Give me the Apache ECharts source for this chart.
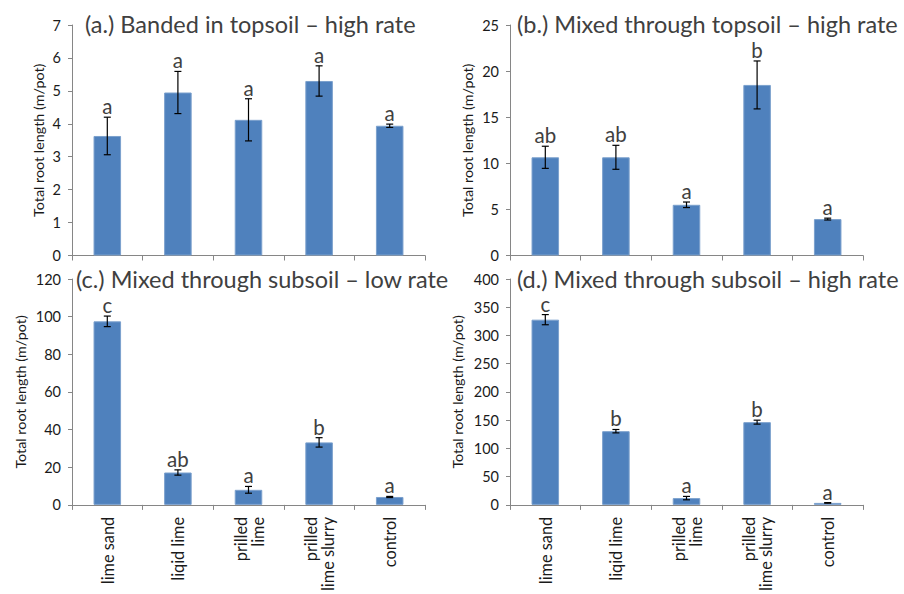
<!DOCTYPE html>
<html>
<head>
<meta charset="utf-8">
<script src="https://cdn.jsdelivr.net/npm/echarts@6/dist/echarts.min.js"></script>
<style>
html,body{margin:0;padding:0;background:#fff;}
#chart{width:904px;height:594px;}
</style>
</head>
<body>
<div id="chart"></div>
<script>
// ---- Data ----
var categories = ['lime sand', 'liqid lime', 'prilled\nlime', 'prilled\nlime slurry', 'control'];

var titleA = '(a.) Banded in topsoil \u2013 high rate';
var valuesA = [3.63, 4.95, 4.12, 5.30, 3.94];
var errorsA = [0.57, 0.64, 0.64, 0.46, 0.05];
var lettersA = ['a', 'a', 'a', 'a', 'a'];

var titleB = '(b.) Mixed through topsoil \u2013 high rate';
var valuesB = [10.65, 10.65, 5.5, 18.5, 3.95];
var errorsB = [1.2, 1.3, 0.3, 2.6, 0.1];
var lettersB = ['ab', 'ab', 'a', 'b', 'a'];

var titleC = '(c.) Mixed through subsoil \u2013 low rate';
var valuesC = [97.5, 17.2, 8.0, 33.2, 4.2];
var errorsC = [2.8, 1.4, 1.8, 2.5, 0.3];
var lettersC = ['c', 'ab', 'a', 'b', 'a'];

var titleD = '(d.) Mixed through subsoil \u2013 high rate';
var valuesD = [328, 130.5, 12, 146.5, 3.5];
var errorsD = [9, 3, 3, 3.5, 0.5];
var lettersD = ['c', 'b', 'a', 'b', 'a'];

var yMaxes = [7, 25, 120, 400];
var yIntervals = [1, 5, 20, 50];
var yName = 'Total root length (m/pot)';

// ---- Layout / style ----
var FONT = 'Lato';
var axisColor = '#868686';
var textColor = '#1a1a1a';
var barColor = '#4F81BD';

var panels = [
  {title: titleA, vals: valuesA, errs: errorsA, letters: lettersA, grid: {left: 72, top: 25, width: 353, height: 230.5}, nameGap: 27, showCats: false, titlePos: {left: 80, top: 7}},
  {title: titleB, vals: valuesB, errs: errorsB, letters: lettersB, grid: {left: 510, top: 25, width: 353, height: 230.5}, nameGap: 36, showCats: false, titlePos: {left: 512, top: 7}},
  {title: titleC, vals: valuesC, errs: errorsC, letters: lettersC, grid: {left: 72, top: 279, width: 353, height: 230}, nameGap: 45, showCats: true, titlePos: {left: 71, top: 262}},
  {title: titleD, vals: valuesD, errs: errorsD, letters: lettersD, grid: {left: 510, top: 279, width: 353, height: 229.5}, nameGap: 46, showCats: true, titlePos: {left: 512, top: 262}}
];

var option = {
  animation: false,
  backgroundColor: '#fff',
  title: [], grid: [], xAxis: [], yAxis: [], series: []
};

panels.forEach(function (p, i) {
  option.title.push({
    text: p.title, left: p.titlePos.left, top: p.titlePos.top,
    textStyle: {fontFamily: FONT, fontSize: 23.5, lineHeight: 24, fontWeight: 'normal', color: '#404040'}
  });
  option.grid.push(p.grid);
  option.xAxis.push({
    type: 'category', gridIndex: i, data: categories,
    axisLine: {lineStyle: {color: axisColor, width: 1}},
    axisTick: {show: true, length: 5, lineStyle: {color: axisColor}},
    axisLabel: {show: p.showCats, rotate: 90, interval: 0, margin: 12, fontFamily: FONT, fontSize: 16.3, color: textColor, lineHeight: 17}
  });
  option.yAxis.push({
    type: 'value', gridIndex: i, min: 0, max: yMaxes[i], interval: yIntervals[i],
    name: yName, nameLocation: 'middle', nameGap: p.nameGap, nameRotate: 90,
    nameTextStyle: {fontFamily: FONT, fontSize: 14.3, color: textColor},
    axisLine: {show: true, lineStyle: {color: axisColor, width: 1}},
    axisTick: {show: true, length: 4, lineStyle: {color: axisColor}},
    axisLabel: {margin: 11, fontFamily: FONT, fontSize: 14.5, color: textColor},
    splitLine: {show: false}
  });
  option.series.push({
    type: 'bar', xAxisIndex: i, yAxisIndex: i, data: p.vals, barWidth: '39%',
    itemStyle: {color: barColor, borderColor: '#7BA0CD', borderWidth: 1}
  });
  var errData = p.vals.map(function (v, k) { return [k, v, p.errs[k]]; });
  option.series.push({
    type: 'custom', xAxisIndex: i, yAxisIndex: i, data: errData, z: 10,
    renderItem: function (params, api) {
      var k = api.value(0), v = api.value(1), e = api.value(2);
      var letter = p.letters[k];
      var top = api.coord([k, v + e]);
      var bot = api.coord([k, v - e]);
      var x = top[0];
      var cap = 3.5;
      var ls = {stroke: '#000', lineWidth: 1.2};
      return {
        type: 'group',
        children: [
          {type: 'line', shape: {x1: x, y1: top[1], x2: x, y2: bot[1]}, style: ls},
          {type: 'line', shape: {x1: x - cap, y1: top[1], x2: x + cap, y2: top[1]}, style: ls},
          {type: 'line', shape: {x1: x - cap, y1: bot[1], x2: x + cap, y2: bot[1]}, style: ls},
          {type: 'text', x: x, y: top[1] - 11, style: {text: letter, fontFamily: FONT, fontSize: 20.5, lineHeight: 14, fill: '#404040', align: 'center', verticalAlign: 'middle'}}
        ]
      };
    }
  });
});

var chart = echarts.init(document.getElementById('chart'), null, {renderer: 'svg'});
chart.setOption(option);
</script>
</body>
</html>
